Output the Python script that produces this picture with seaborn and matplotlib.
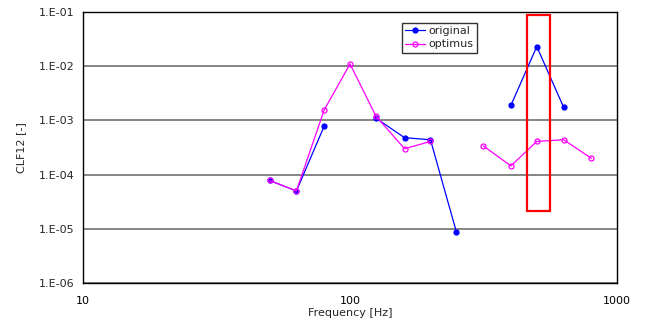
import numpy as np
import pandas as pd
import seaborn as sns
import matplotlib
matplotlib.use("Agg")
import matplotlib.pyplot as plt
from matplotlib.patches import Rectangle
from matplotlib.ticker import FuncFormatter, LogLocator, NullFormatter

# 1/3 octave band centre frequencies [Hz]
freqs = [50, 63, 80, 100, 125, 160, 200, 250, 315, 400, 500, 630, 800]
# None = no value (gap in the line)
original = [7.8e-5, 5.0e-5, 7.8e-4, None, 1.1e-3, 4.8e-4, 4.4e-4, 8.8e-6,
            None, 1.9e-3, 2.3e-2, 1.75e-3, None]
optimus = [7.8e-5, 5.0e-5, 1.55e-3, 1.1e-2, 1.2e-3, 3.0e-4, 4.1e-4, None,
           3.4e-4, 1.45e-4, 4.1e-4, 4.4e-4, 2.0e-4]
series_names = ["original", "optimus"]

# highlighted band (red box): x range and y range
box_x = (459, 561)
box_y = (2.1e-5, 8.8e-2)


def to_frame(values):
    df = pd.DataFrame({"freq": freqs, "clf": values}, dtype=float)
    # new segment after every gap so lines are not joined across it
    df["seg"] = df["clf"].isna().cumsum()
    return df.dropna()


sns.set_style("white")
plt.rcParams["font.family"] = ["DejaVu Sans"]

fig = plt.figure(figsize=(6.47, 3.33), dpi=100)
ax = fig.add_axes([0.128, 0.150, 0.826, 0.814])

styles = {
    "original": dict(color="#0000FF", markerfacecolor="#0000FF"),
    "optimus": dict(color="#FF00FF", markerfacecolor="none"),
}
for name, vals in zip(series_names, [original, optimus]):
    sns.lineplot(data=to_frame(vals), x="freq", y="clf", units="seg",
                 estimator=None, marker="o", markersize=3.6, linewidth=0.9,
                 markeredgewidth=0.9, markeredgecolor=styles[name]["color"],
                 ax=ax, label=name, **styles[name])

ax.set_xscale("log")
ax.set_yscale("log")
ax.set_xlim(10, 1000)
ax.set_ylim(1e-6, 1e-1)

ax.yaxis.set_major_locator(LogLocator(base=10, numticks=10))
ax.yaxis.set_minor_formatter(NullFormatter())
ax.yaxis.set_major_formatter(
    FuncFormatter(lambda v, p: "1.E%+03d" % int(round(np.log10(v)))))
ax.xaxis.set_major_formatter(FuncFormatter(lambda v, p: "%d" % v))
ax.xaxis.set_minor_formatter(NullFormatter())

ax.tick_params(axis="x", which="both", direction="in", length=4, width=0.8,
               labelsize=8, pad=9, colors="black")
ax.tick_params(axis="y", which="both", length=0, labelsize=8, pad=6)
ax.yaxis.grid(True, which="major", color="#707070", linewidth=1.2)
ax.xaxis.grid(False)
for sp in ax.spines.values():
    sp.set_color("black")
    sp.set_linewidth(1.0)

ax.set_xlabel("Frequency [Hz]", fontsize=8, labelpad=2)
ax.set_ylabel("CLF12 [-]", fontsize=8, labelpad=9)

ax.add_patch(Rectangle((box_x[0], box_y[0]), box_x[1] - box_x[0],
                       box_y[1] - box_y[0], fill=False, edgecolor="red",
                       linewidth=1.6, zorder=5))

handles, labels = ax.get_legend_handles_labels()
uniq = {}
for h, l in zip(handles, labels):
    uniq.setdefault(l, h)
leg = ax.legend(list(uniq.values()), list(uniq.keys()), loc="upper left",
                bbox_to_anchor=(0.597, 0.96), fontsize=8, frameon=True,
                fancybox=False, handlelength=1.8, borderpad=0.3,
                labelspacing=0.3, handletextpad=0.3, borderaxespad=0)
leg.get_frame().set_edgecolor("black")
leg.get_frame().set_linewidth(1.0)

fig.savefig("out.png", dpi=100)
